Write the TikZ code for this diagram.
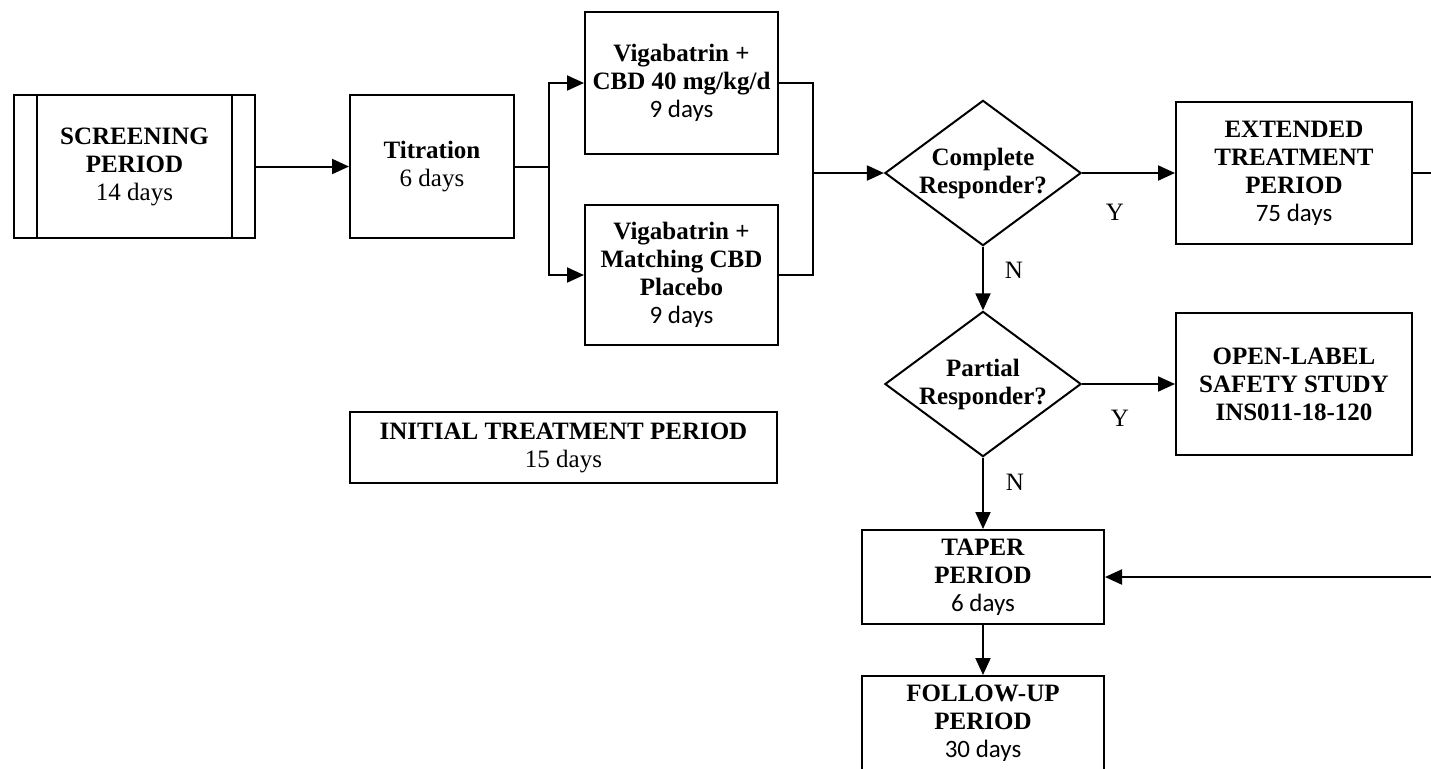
\documentclass[tikz,border=0pt]{standalone}
\usepackage{fontspec}
\setmainfont{Liberation Serif}
\newfontfamily\calfont{Carlito}
\usetikzlibrary{shapes.geometric,arrows.meta}
\begin{document}
\begin{tikzpicture}[x=0.5pt,y=-0.5pt,
  box/.style={draw,line width=1pt,rectangle,inner sep=0pt,align=center,
    font=\fontsize{12.5pt}{14pt}\selectfont},
  dec/.style={draw,line width=1pt,diamond,inner sep=0pt,shape aspect=1.35,
    minimum width=96pt,minimum height=71pt,align=center,
    font=\fontsize{12.5pt}{14pt}\selectfont\bfseries},
  conn/.style={line width=1pt},
  arr/.style={conn,-{Triangle[length=8.5pt,width=7.5pt]}},
  lbl/.style={font=\fontsize{12.5pt}{14pt}\selectfont,inner sep=0pt}
]
\useasboundingbox (0,0) rectangle (1431,768);
\clip (0,0) rectangle (1431,768);

% nodes
\node[box,minimum width=120.5pt,minimum height=71.5pt] (scr) at (134.5,166.5)
  {\textbf{SCREENING}\\\textbf{PERIOD}\\14 days};
\draw[conn] ([xshift=12pt]scr.north west) -- ([xshift=12pt]scr.south west);
\draw[conn] ([xshift=-12pt]scr.north east) -- ([xshift=-12pt]scr.south east);

\node[box,minimum width=82pt,minimum height=71.5pt] (tit) at (432,166.5)
  {\textbf{Titration}\\6 days};

\node[box,minimum width=96.5pt,minimum height=71pt] (v1) at (681.5,83)
  {\textbf{Vigabatrin +}\\\textbf{CBD 40 mg/kg/d}\\{\calfont 9 days}};
\node[box,minimum width=96.5pt,minimum height=70pt] (v2) at (681.5,275)
  {\textbf{Vigabatrin +}\\\textbf{Matching CBD}\\\textbf{Placebo}\\{\calfont 9 days}};

\node[dec] (d1) at (983,173) {Complete\\Responder?};
\node[box,minimum width=118pt,minimum height=71pt] (ext) at (1294,173)
  {\textbf{EXTENDED}\\\textbf{TREATMENT}\\\textbf{PERIOD}\\{\calfont 75 days}};

\node[dec] (d2) at (983,384) {Partial\\Responder?};
\node[box,minimum width=118pt,minimum height=71pt] (open) at (1294,384)
  {\textbf{OPEN-LABEL}\\\textbf{SAFETY STUDY}\\\textbf{INS011-18-120}};

\node[box,minimum width=213.5pt,minimum height=35.5pt] (init) at (563.5,447.5)
  {\textbf{INITIAL TREATMENT PERIOD}\\15 days};

\node[box,minimum width=121pt,minimum height=47pt] (taper) at (983,577)
  {\textbf{TAPER}\\\textbf{PERIOD}\\{\calfont 6 days}};
\node[box,minimum width=121pt,minimum height=47pt] (fol) at (983,723)
  {\textbf{FOLLOW-UP}\\\textbf{PERIOD}\\{\calfont 30 days}};

% labels
\node[lbl] (y1) at (1115,212) {Y};
\node[lbl] (n1) at (1014,270) {N};
\node[lbl] (y2) at (1120,418) {Y};
\node[lbl] (n2) at (1015,482) {N};

% connectors
\draw[arr] (scr.east) -- (tit.west);
\coordinate (j) at (549,166.5);
\draw[conn] (tit.east) -- (j);
\draw[arr] (j) |- (v1.west);
\draw[arr] (j) |- (v2.west);
\coordinate (m) at (813,173);
\draw[conn] (v1.east) -| (m);
\draw[conn] (v2.east) -| (m);
\draw[arr] (m) -- (d1.west);
\draw[arr] (d1.east) -- (ext.west);
\draw[arr] (d1.south) -- (d2.north);
\draw[arr] (d2.east) -- (open.west);
\draw[arr] (d2.south) -- (taper.north);
\draw[arr] (taper.south) -- (fol.north);
\coordinate (r) at (1460,173);
\draw[arr] (ext.east) -- (r) |- (taper.east);
\end{tikzpicture}
\end{document}
